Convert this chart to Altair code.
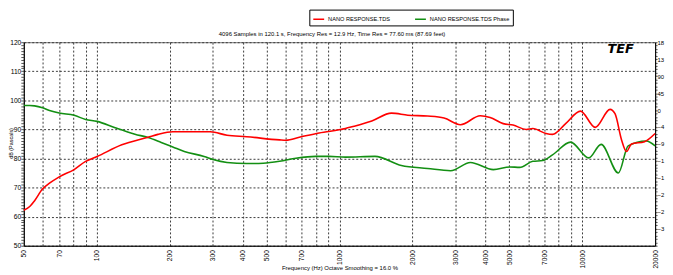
import altair as alt
import pandas as pd

# ---- data ----
red_freq = [50, 52.9, 55.4, 59.7, 63.8, 70, 80.6, 89.9, 100.2, 126.7, 162.7, 178.6, 205.6,
            293.4, 343.9, 414.7, 566.5, 603, 683, 824, 1058, 1126, 1359, 1638, 1913, 2307,
            2698, 3154, 3804, 4177, 4730, 5196, 5885, 6266, 7094, 7553, 8555, 9849, 11329,
            13043, 13668, 14545, 15243, 15977, 18096, 20000]
red_db = [62.2, 63.5, 65.5, 69.5, 71.5, 73.7, 76.2, 79.0, 80.7, 84.7, 87.3, 88.3, 89.2,
          89.2, 88.0, 87.5, 86.4, 86.3, 87.3, 88.8, 90.3, 90.9, 92.9, 95.6, 94.9, 94.6,
          93.9, 91.6, 94.7, 94.1, 92.0, 91.5, 90.0, 90.3, 88.6, 88.3, 92.0, 96.3, 90.7,
          96.9, 95.4, 86.4, 82.4, 85.0, 85.8, 88.6]

green_freq = [50, 52.9, 55.4, 59.7, 63.8, 70, 80.6, 89.9, 100.2, 119, 143.6, 162.7, 184.2,
              205.6, 229.3, 276.7, 303.8, 343.9, 414.7, 485, 566.5, 662, 798.7, 904.7, 1058,
              1401, 1799, 2307, 2872, 3464, 4307, 5037, 5530, 6266, 6880, 7553, 8964, 10652,
              11983, 14110, 15488, 18386, 20000]
green_phase = [12, 12, 11, 6, -1, -8, -14, -25, -30, -47, -64, -73, -86,
               -98, -110, -123, -132, -139, -142, -141, -136, -128, -123, -123, -125,
               -123, -147, -155, -161, -139, -158, -151, -152, -136, -134, -119, -85, -127,
               -91, -167, -95, -82, -95]

series_names = ["NANO RESPONSE.TDS", "NANO RESPONSE.TDS Phase"]
series_colors = ["#ff0000", "#138f13"]

x_grid = [50, 60, 70, 80, 90, 100, 200, 300, 400, 500, 600, 700, 800, 900,
          1000, 2000, 3000, 4000, 5000, 6000, 7000, 8000, 9000, 10000, 20000]
x_labels = [50, 70, 100, 200, 300, 400, 500, 700, 1000, 2000, 3000, 4000, 5000, 7000, 10000, 20000]
db_ticks = list(range(50, 121))
phase_ticks = list(range(-360, 181, 9))

title_text = ["4096 Samples in 120.1 s, Frequency Res = 12.9 Hz, Time Res = 77.60 ms (87.69 feet)"]
logo_text = ["TEF"]
x_title = "Frequency (Hz) Octave Smoothing = 16.0 %"

red_df = pd.DataFrame({"freq": red_freq, "db": red_db, "series": series_names[0]})
green_df = pd.DataFrame({"freq": green_freq, "phase": green_phase, "series": series_names[1]})

FONT = "Liberation Sans"
GRID = "#3a3a3a"

x_enc = alt.X(
    "freq:Q",
    scale=alt.Scale(type="log", domain=[50, 20000], nice=False),
    axis=alt.Axis(
        values=x_grid,
        format="d",
        labelExpr="indexof(" + str(x_labels) + ", datum.value) >= 0 ? datum.label : ''",
        labelAngle=270,
        labelFontSize=6.7,
        labelPadding=4,
        ticks=False,
        grid=True,
        gridColor=GRID,
        gridDash=[2, 2],
        gridWidth=1,
        domainColor="#000000",
        title=x_title,
        titleFontSize=6,
        titleFontWeight="normal",
        titleY=22,
        titleBaseline="middle",
    ),
)

color_enc = alt.Color(
    "series:N",
    scale=alt.Scale(domain=series_names, range=series_colors),
    legend=alt.Legend(
        title=None,
        orient="none",
        legendX=289,
        legendY=-33,
        direction="horizontal",
        symbolType="stroke",
        symbolSize=121,
        symbolStrokeWidth=1.5,
        labelFontSize=5.7,
        labelLimit=300,
        labelOffset=3,
        columnPadding=22,
        padding=3,
        strokeColor="#000000",
        fillColor="#ffffff",
        cornerRadius=0,
    ),
)

red_line = alt.Chart(red_df).mark_line(interpolate="monotone", strokeWidth=1.6).encode(
    x=x_enc,
    y=alt.Y(
        "db:Q",
        scale=alt.Scale(domain=[50, 120], nice=False, zero=False),
        axis=alt.Axis(
            orient="left",
            values=db_ticks,
            labelExpr="datum.value % 10 == 0 ? datum.label : ''",
            labelFontSize=6.8,
            labelPadding=0,
            tickSize=3,
            tickColor="#555555",
            grid=True,
            gridColor=GRID,
            gridDash=[2, 2],
            gridOpacity={"condition": {"test": "datum.value % 10 == 0", "value": 1}, "value": 0},
            domainColor="#000000",
            title="dB (Pascals)",
            titleFontSize=5.5,
            titleFontWeight="normal",
            titleX=-13,
            titleY=102,
            titleBaseline="middle",
            titleAngle=270,
        ),
    ),
    color=color_enc,
)

green_line = alt.Chart(green_df).mark_line(interpolate="monotone", strokeWidth=1.6).encode(
    x=x_enc,
    y=alt.Y(
        "phase:Q",
        scale=alt.Scale(domain=[-360, 180], nice=False, zero=False),
        axis=alt.Axis(
            orient="right",
            values=phase_ticks,
            labelExpr="(datum.value % 45 == 0 && datum.value > -360) ? substring(datum.label, 0, 2) : ''",
            labelFontSize=6,
            labelPadding=0,
            labelAlign="left",
            tickSize=2,
            tickColor="#555555",
            grid=False,
            domainColor="#000000",
            title=None,
        ),
    ),
    color=color_enc,
)

logo = alt.Chart(pd.DataFrame({"t": logo_text})).mark_text(
    font="DejaVu Sans", fontWeight="bold", fontStyle="italic", fontSize=13,
    color="#000000", align="center", baseline="middle"
).encode(text="t:N", x=alt.value(604), y=alt.value(7))

subtitle = alt.Chart(pd.DataFrame({"t": title_text})).mark_text(
    font=FONT, fontSize=6, color="#000000", align="center", baseline="middle"
).encode(text="t:N", x=alt.value(312), y=alt.value(-8))

chart = (
    alt.layer(green_line, red_line, logo, subtitle)
    .resolve_scale(y="independent")
    .properties(
        width=639,
        height=206,
        autosize=alt.AutoSizeParams(type="none"),
        padding={"left": 16, "top": 33, "right": 10, "bottom": 28},
    )
    .configure(font=FONT, background="#ffffff")
    .configure_view(stroke="#777777", strokeWidth=1)
    .configure_axis(labelFont=FONT, titleFont=FONT, labelColor="#000000", titleColor="#000000")
    .configure_legend(labelFont=FONT, labelColor="#000000")
)

chart.save("out.html", embed_options={"renderer": "svg", "actions": False})
